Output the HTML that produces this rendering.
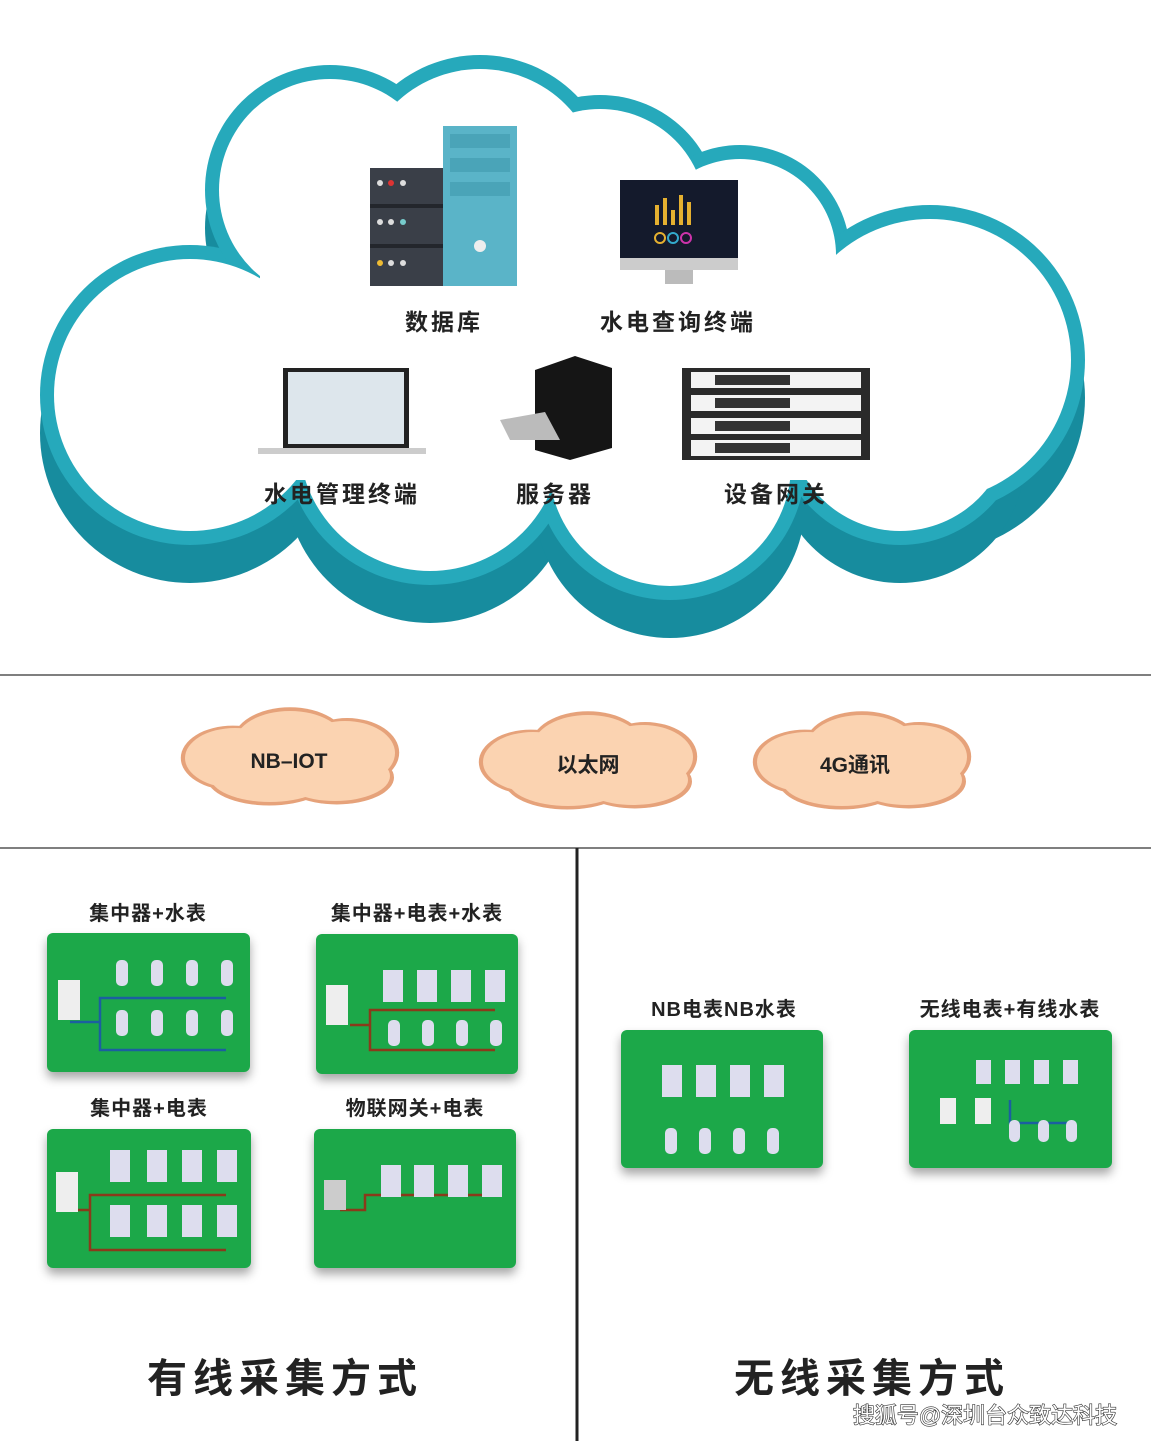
<!DOCTYPE html>
<html><head><meta charset="utf-8"><style>
html,body{margin:0;padding:0;background:#fff}
body{width:1151px;height:1441px;position:relative;overflow:hidden;font-family:"Liberation Sans","Noto Sans CJK SC",sans-serif}
</style></head><body>
<svg width="1151" height="1441" viewBox="0 0 1151 1441" xmlns="http://www.w3.org/2000/svg" style="position:absolute;left:0;top:0">
<defs>
<g id="oc">
<ellipse cx="-55" cy="0" rx="50" ry="30"/>
<ellipse cx="0" cy="-15" rx="55" ry="32"/>
<ellipse cx="55" cy="-5" rx="50" ry="32"/>
<ellipse cx="-20" cy="18" rx="60" ry="26"/>
<ellipse cx="45" cy="18" rx="55" ry="25"/>
</g>
<filter id="sh" x="-10%" y="-10%" width="120%" height="130%"><feDropShadow dx="0" dy="6" stdDeviation="5" flood-color="#000" flood-opacity="0.35"/></filter>
</defs>
<!-- big cloud: dark band -->
<g fill="#178c9e" transform="translate(0,38)">
<circle cx="190" cy="395" r="150"/><circle cx="330" cy="190" r="125"/><circle cx="480" cy="190" r="135"/>
<circle cx="600" cy="215" r="120"/><circle cx="740" cy="255" r="110"/><circle cx="930" cy="360" r="155"/>
<circle cx="430" cy="440" r="145"/><circle cx="670" cy="465" r="135"/><circle cx="900" cy="420" r="125"/>
<rect x="260" y="270" width="690" height="210"/>
</g>
<g fill="#26a9bb">
<circle cx="190" cy="395" r="150"/><circle cx="330" cy="190" r="125"/><circle cx="480" cy="190" r="135"/>
<circle cx="600" cy="215" r="120"/><circle cx="740" cy="255" r="110"/><circle cx="930" cy="360" r="155"/>
<circle cx="430" cy="440" r="145"/><circle cx="670" cy="465" r="135"/><circle cx="900" cy="420" r="125"/>
<rect x="260" y="270" width="690" height="210"/>
</g>
<g fill="#fff">
<circle cx="190" cy="395" r="136"/><circle cx="330" cy="190" r="111"/><circle cx="480" cy="190" r="121"/>
<circle cx="600" cy="215" r="106"/><circle cx="740" cy="255" r="96"/><circle cx="930" cy="360" r="141"/>
<circle cx="430" cy="440" r="131"/><circle cx="670" cy="465" r="121"/><circle cx="900" cy="420" r="111"/>
<rect x="260" y="270" width="690" height="210"/>
</g>
<!-- database -->
<rect x="370" y="168" width="80" height="118" fill="#3a3f48"/>
<rect x="370" y="204" width="80" height="4" fill="#23262c"/><rect x="370" y="244" width="80" height="4" fill="#23262c"/>
<circle cx="380" cy="183" r="3" fill="#ddd"/><circle cx="391" cy="183" r="3" fill="#d33"/><circle cx="403" cy="183" r="3" fill="#ddd"/>
<circle cx="380" cy="222" r="3" fill="#ddd"/><circle cx="391" cy="222" r="3" fill="#ddd"/><circle cx="403" cy="222" r="3" fill="#7cc"/>
<circle cx="380" cy="263" r="3" fill="#eb3"/><circle cx="391" cy="263" r="3" fill="#ddd"/><circle cx="403" cy="263" r="3" fill="#ddd"/>
<rect x="443" y="126" width="74" height="160" fill="#5ab4c8"/>
<rect x="450" y="134" width="60" height="14" fill="#4aa4b8"/><rect x="450" y="158" width="60" height="14" fill="#4aa4b8"/><rect x="450" y="182" width="60" height="14" fill="#4aa4b8"/>
<circle cx="480" cy="246" r="6" fill="#eee"/>
<!-- monitor -->
<rect x="620" y="180" width="118" height="78" fill="#141a2c"/>
<g fill="#e5b030"><rect x="655" y="205" width="4" height="20"/><rect x="663" y="198" width="4" height="27"/><rect x="671" y="210" width="4" height="15"/><rect x="679" y="195" width="4" height="30"/><rect x="687" y="202" width="4" height="23"/></g>
<circle cx="660" cy="238" r="5" fill="none" stroke="#e5b030" stroke-width="2"/><circle cx="673" cy="238" r="5" fill="none" stroke="#3ac" stroke-width="2"/><circle cx="686" cy="238" r="5" fill="none" stroke="#c3a" stroke-width="2"/>
<rect x="620" y="258" width="118" height="12" fill="#ccc"/>
<rect x="665" y="270" width="28" height="14" fill="#bbb"/>
<!-- laptop -->
<rect x="283" y="368" width="126" height="80" fill="#222"/>
<rect x="288" y="372" width="116" height="72" fill="#dde6ec"/>
<rect x="258" y="448" width="168" height="6" fill="#ccc"/>
<!-- server -->
<polygon points="535,370 575,356 612,368 612,448 570,460 535,450" fill="#151515"/>
<polygon points="500,420 545,412 560,440 510,440" fill="#bbb"/>
<!-- rack -->
<rect x="682" y="368" width="188" height="92" fill="#2a2a2a"/>
<rect x="691" y="372" width="170" height="16" fill="#f3f3f3"/><rect x="691" y="395" width="170" height="16" fill="#f3f3f3"/><rect x="691" y="418" width="170" height="16" fill="#f3f3f3"/><rect x="691" y="440" width="170" height="16" fill="#f3f3f3"/>
<g fill="#333"><rect x="715" y="375" width="75" height="10"/><rect x="715" y="398" width="75" height="10"/><rect x="715" y="421" width="75" height="10"/><rect x="715" y="443" width="75" height="10"/></g>
<g font-weight="bold" font-size="23" fill="#222" text-anchor="middle" letter-spacing="3">
<text x="444" y="330">数据库</text>
<text x="678" y="330">水电查询终端</text>
<text x="342" y="502">水电管理终端</text>
<text x="555" y="502">服务器</text>
<text x="776" y="502">设备网关</text>
</g>
<!-- separators -->
<line x1="0" y1="675" x2="1151" y2="675" stroke="#555" stroke-width="1.5"/>
<line x1="0" y1="848" x2="1151" y2="848" stroke="#555" stroke-width="1.5"/>
<line x1="577" y1="848" x2="577" y2="1441" stroke="#222" stroke-width="3"/>
<!-- orange clouds -->
<g transform="translate(290,758)"><g fill="#e6a27a" transform="scale(1.04,1.08)"><use href="#oc"/></g><g fill="#fbd3b1"><use href="#oc"/></g></g>
<g transform="translate(588,762)"><g fill="#e6a27a" transform="scale(1.04,1.08)"><use href="#oc"/></g><g fill="#fbd3b1"><use href="#oc"/></g></g>
<g transform="translate(862,762)"><g fill="#e6a27a" transform="scale(1.04,1.08)"><use href="#oc"/></g><g fill="#fbd3b1"><use href="#oc"/></g></g>
<g font-weight="bold" font-size="21" fill="#222" text-anchor="middle">
<text x="289" y="768">NB–IOT</text>
<text x="588" y="772">以太网</text>
<text x="855" y="772">4G通讯</text>
</g>
<!-- boards -->
<g fill="#1ea84a" filter="url(#sh)">
<rect x="47" y="933" width="203" height="139" rx="6"/>
<rect x="316" y="934" width="202" height="140" rx="6"/>
<rect x="47" y="1129" width="204" height="139" rx="6"/>
<rect x="314" y="1129" width="202" height="139" rx="6"/>
<rect x="621" y="1030" width="202" height="138" rx="6"/>
<rect x="909" y="1030" width="203" height="138" rx="6"/>
</g>
<g stroke="#1b5fa0" stroke-width="2.5" fill="none">
<path d="M70 1022 H100 V998 H226 M100 1022 V1050 H226"/>
<path d="M1010 1100 V1123 H1073"/>
</g>
<g stroke="#8a3a1a" stroke-width="2.5" fill="none">
<path d="M350 1025 H370 V1010 H495 M370 1025 V1050 H495"/>
<path d="M72 1210 H90 V1195 H226 M90 1210 V1250 H226"/>
<path d="M340 1210 H365 V1195 H495"/>
</g>
<g fill="#eee">
<rect x="58" y="980" width="22" height="40"/>
<rect x="326" y="985" width="22" height="40"/>
<rect x="56" y="1172" width="22" height="40"/>
<rect x="324" y="1180" width="22" height="30" fill="#ccc"/>
<rect x="940" y="1098" width="16" height="26"/><rect x="975" y="1098" width="16" height="26"/>
</g>
<g fill="#dde">
<rect x="116" y="960" width="12" height="26" rx="5"/><rect x="151" y="960" width="12" height="26" rx="5"/><rect x="186" y="960" width="12" height="26" rx="5"/><rect x="221" y="960" width="12" height="26" rx="5"/>
<rect x="116" y="1010" width="12" height="26" rx="5"/><rect x="151" y="1010" width="12" height="26" rx="5"/><rect x="186" y="1010" width="12" height="26" rx="5"/><rect x="221" y="1010" width="12" height="26" rx="5"/>
<rect x="383" y="970" width="20" height="32"/><rect x="417" y="970" width="20" height="32"/><rect x="451" y="970" width="20" height="32"/><rect x="485" y="970" width="20" height="32"/>
<rect x="388" y="1020" width="12" height="26" rx="5"/><rect x="422" y="1020" width="12" height="26" rx="5"/><rect x="456" y="1020" width="12" height="26" rx="5"/><rect x="490" y="1020" width="12" height="26" rx="5"/>
<rect x="110" y="1150" width="20" height="32"/><rect x="147" y="1150" width="20" height="32"/><rect x="182" y="1150" width="20" height="32"/><rect x="217" y="1150" width="20" height="32"/>
<rect x="110" y="1205" width="20" height="32"/><rect x="147" y="1205" width="20" height="32"/><rect x="182" y="1205" width="20" height="32"/><rect x="217" y="1205" width="20" height="32"/>
<rect x="381" y="1165" width="20" height="32"/><rect x="414" y="1165" width="20" height="32"/><rect x="448" y="1165" width="20" height="32"/><rect x="482" y="1165" width="20" height="32"/>
<rect x="662" y="1065" width="20" height="32"/><rect x="696" y="1065" width="20" height="32"/><rect x="730" y="1065" width="20" height="32"/><rect x="764" y="1065" width="20" height="32"/>
<rect x="665" y="1128" width="12" height="26" rx="5"/><rect x="699" y="1128" width="12" height="26" rx="5"/><rect x="733" y="1128" width="12" height="26" rx="5"/><rect x="767" y="1128" width="12" height="26" rx="5"/>
<rect x="976" y="1060" width="15" height="24"/><rect x="1005" y="1060" width="15" height="24"/><rect x="1034" y="1060" width="15" height="24"/><rect x="1063" y="1060" width="15" height="24"/>
<rect x="1009" y="1120" width="11" height="22" rx="5"/><rect x="1038" y="1120" width="11" height="22" rx="5"/><rect x="1066" y="1120" width="11" height="22" rx="5"/>
</g>
<g font-weight="bold" font-size="20" fill="#222" text-anchor="middle" letter-spacing="1">
<text x="148" y="920">集中器+水表</text>
<text x="417" y="920">集中器+电表+水表</text>
<text x="149" y="1115">集中器+电表</text>
<text x="415" y="1115">物联网关+电表</text>
<text x="724" y="1016">NB电表NB水表</text>
<text x="1010" y="1016">无线电表+有线水表</text>
</g>
<g font-weight="bold" font-size="40" fill="#222" text-anchor="middle" letter-spacing="6">
<text x="285" y="1392">有线采集方式</text>
<text x="872" y="1392">无线采集方式</text>
</g>
<text x="985" y="1423" text-anchor="middle" font-size="22" fill="#fff" stroke="#333" stroke-width="1.2" paint-order="stroke">搜狐号@深圳台众致达科技</text>
</svg>
</body></html>
